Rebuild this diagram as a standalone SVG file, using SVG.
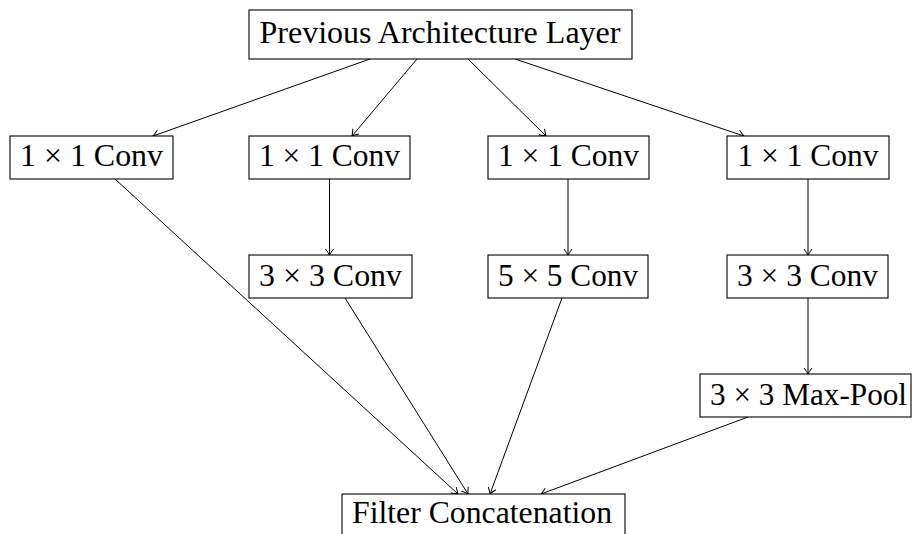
<svg xmlns="http://www.w3.org/2000/svg" width="912" height="534" viewBox="0 0 912 534">
<defs>
<marker id="arr" markerUnits="userSpaceOnUse" markerWidth="14" markerHeight="14" viewBox="-8 -7 10 14" refX="0" refY="0" orient="auto">
<path d="M -6 -4 Q -2 -1 0 0 Q -2 1 -6 4" fill="none" stroke="#000" stroke-width="1"/>
</marker>
</defs>
<style>
.box{fill:#fff;stroke:#000;stroke-width:1.1}
.lbl{font-family:"Liberation Serif","DejaVu Serif",serif;font-size:32px;fill:#000;text-anchor:middle}
.edge{fill:none;stroke:#000;stroke-width:1;marker-end:url(#arr)}
</style>
<rect width="912" height="534" fill="#fff"/>
<g id="connectors">
<line class="edge" x1="370" y1="59" x2="153" y2="136"/>
<line class="edge" x1="417" y1="59" x2="352" y2="136"/>
<line class="edge" x1="468" y1="59" x2="546" y2="136"/>
<line class="edge" x1="515" y1="59" x2="744" y2="136"/>
<line class="edge" x1="329.5" y1="179" x2="329.5" y2="255"/>
<line class="edge" x1="568" y1="179" x2="568" y2="255"/>
<line class="edge" x1="808" y1="179" x2="808" y2="255"/>
<line class="edge" x1="808" y1="298" x2="808" y2="374"/>
<line class="edge" x1="115" y1="179" x2="458" y2="494"/>
<line class="edge" x1="345" y1="298" x2="468" y2="494"/>
<line class="edge" x1="562" y1="298" x2="490" y2="494"/>
<line class="edge" x1="748" y1="417" x2="541" y2="494"/>
</g>
<g id="prev">
<rect class="box" x="249" y="10" width="383" height="49"/>
<text class="lbl" x="440" y="43" textLength="361" lengthAdjust="spacingAndGlyphs">Previous Architecture Layer</text>
</g>
<g id="conv1a">
<rect class="box" x="10" y="136" width="163" height="43"/>
<text class="lbl" x="91.5" y="166" textLength="143" lengthAdjust="spacingAndGlyphs">1 × 1 Conv</text>
</g>
<g id="conv1b">
<rect class="box" x="249" y="136" width="161" height="43"/>
<text class="lbl" x="329.5" y="166" textLength="141" lengthAdjust="spacingAndGlyphs">1 × 1 Conv</text>
</g>
<g id="conv1c">
<rect class="box" x="488" y="136" width="161" height="43"/>
<text class="lbl" x="568.5" y="166" textLength="141" lengthAdjust="spacingAndGlyphs">1 × 1 Conv</text>
</g>
<g id="conv1d">
<rect class="box" x="727" y="136" width="162" height="43"/>
<text class="lbl" x="808" y="166" textLength="141" lengthAdjust="spacingAndGlyphs">1 × 1 Conv</text>
</g>
<g id="conv3a">
<rect class="box" x="249" y="255" width="163" height="43"/>
<text class="lbl" x="330.5" y="286" textLength="143" lengthAdjust="spacingAndGlyphs">3 × 3 Conv</text>
</g>
<g id="conv5">
<rect class="box" x="488" y="255" width="160" height="43"/>
<text class="lbl" x="568" y="286" textLength="140" lengthAdjust="spacingAndGlyphs">5 × 5 Conv</text>
</g>
<g id="conv3b">
<rect class="box" x="727" y="255" width="161" height="43"/>
<text class="lbl" x="807.5" y="286" textLength="141" lengthAdjust="spacingAndGlyphs">3 × 3 Conv</text>
</g>
<g id="maxpool">
<rect class="box" x="700" y="374" width="211" height="43"/>
<text class="lbl" x="808.5" y="405" textLength="197" lengthAdjust="spacingAndGlyphs">3 × 3 Max-Pool</text>
</g>
<g id="concat">
<rect class="box" x="342" y="494" width="283" height="46"/>
<text class="lbl" x="482" y="523" textLength="260" lengthAdjust="spacingAndGlyphs">Filter Concatenation</text>
</g>
</svg>
